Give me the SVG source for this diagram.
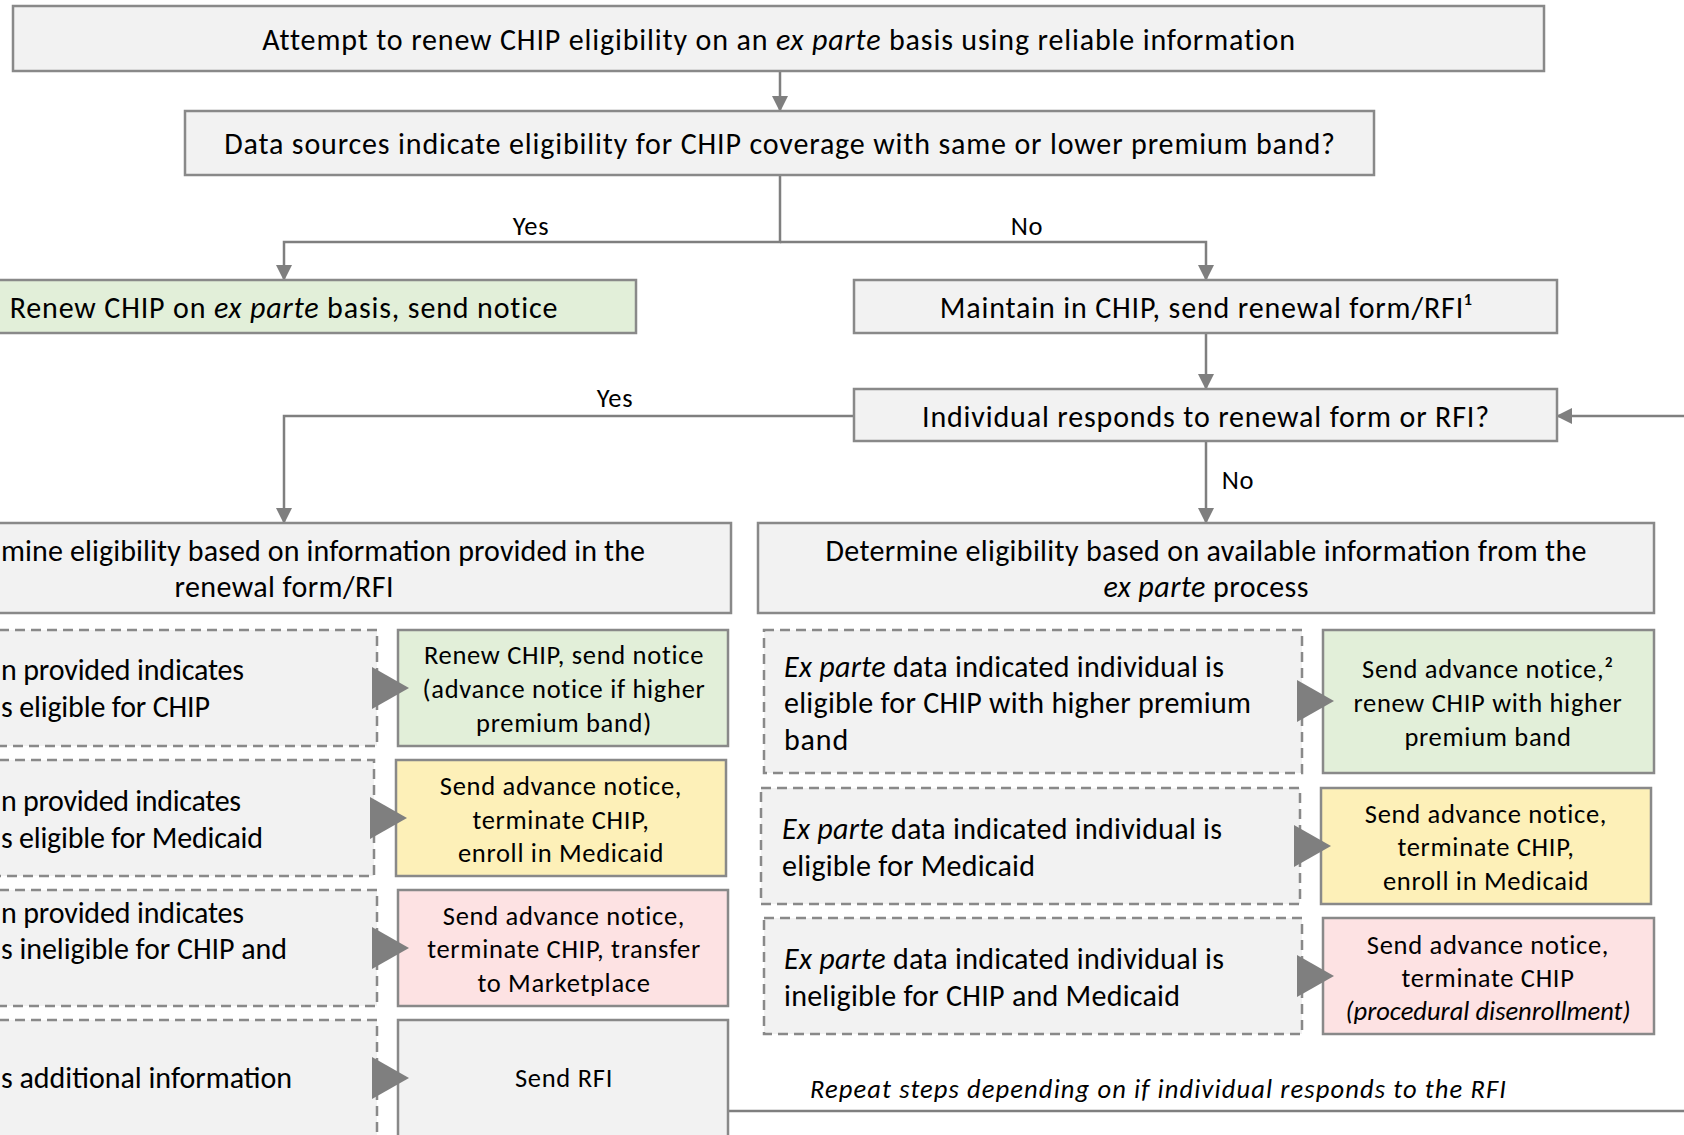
<svg xmlns="http://www.w3.org/2000/svg" width="1684" height="1135" viewBox="0 0 1684 1135">
<defs>
<marker id="ah" viewBox="0 0 16 16" refX="14" refY="8" markerWidth="16" markerHeight="16" markerUnits="userSpaceOnUse" orient="auto">
<path d="M0,0 L16,8 L0,16 Z" fill="#7f7f7f"/>
</marker>
<style>
text{font-family:Carlito,Lato,"Open Sans",sans-serif;fill:#000}
.l{font-size:30px;letter-spacing:0.85px}
.s{font-size:26.5px;letter-spacing:0.7px}
.f{letter-spacing:0}
.m{text-anchor:middle}
.i{font-style:italic}
.box{fill:#f2f2f2;stroke:#898989;stroke-width:2.5}
.dash{fill:#f2f2f2;stroke:#898989;stroke-width:2.5;stroke-dasharray:10 6}
.g{fill:#e2efd9;stroke:#898989;stroke-width:2.5}
.y{fill:#fdf0b8;stroke:#898989;stroke-width:2.5}
.p{fill:#fde2e3;stroke:#898989;stroke-width:2.5}
.c{fill:none;stroke:#7f7f7f;stroke-width:2.5;marker-end:url(#ah)}
.tri{fill:#7f7f7f}
</style>
</defs>
<rect width="1684" height="1135" fill="#fff"/>

<g id="connectors">
<path class="c" d="M780,71 V110"/>
<path class="c" d="M780,175 V242 H284 V279"/>
<path class="c" d="M780,242 H1206 V279"/>
<path class="c" d="M1206,333 V388"/>
<path class="c" d="M854,416 H284 V522"/>
<path class="c" d="M1206,441 V522"/>
<path class="c" d="M729,1111 H1720 V416 H1558"/>
<text class="s m" x="531" y="235">Yes</text>
<text class="s m" x="1027" y="235">No</text>
<text class="s m" x="615" y="407">Yes</text>
<text class="s m" x="1238" y="489">No</text>
<text class="s i f" x="810" y="1098" textLength="696" lengthAdjust="spacing">Repeat steps depending on if individual responds to the RFI</text>
</g>

<g id="n-attempt">
<rect class="box" x="13" y="6" width="1531" height="65"/>
<text class="l m" x="779" y="50">Attempt to renew CHIP eligibility on an <tspan class="i">ex parte</tspan> basis using reliable information</text>
</g>
<g id="n-datasources">
<rect class="box" x="185" y="111" width="1189" height="64"/>
<text class="l m" x="780" y="154">Data sources indicate eligibility for CHIP coverage with same or lower premium band?</text>
</g>
<g id="n-renew-exparte">
<rect class="g" x="-70" y="280" width="706" height="53"/>
<text class="l m" x="284" y="318">Renew CHIP on <tspan class="i">ex parte</tspan> basis, send notice</text>
</g>
<g id="n-maintain">
<rect class="box" x="854" y="280" width="703" height="53"/>
<text class="l m" x="1206" y="318">Maintain in CHIP, send renewal form/RFI¹</text>
</g>
<g id="n-responds">
<rect class="box" x="854" y="389" width="703" height="52"/>
<text class="l m" x="1206" y="427">Individual responds to renewal form or RFI?</text>
</g>
<g id="n-determine-left">
<rect class="box" x="-165" y="523" width="896" height="90"/>
<text class="l f" x="1" y="561" textLength="644" lengthAdjust="spacing">mine eligibility based on information provided in the</text>
<text class="l m f" x="284" y="597" textLength="219" lengthAdjust="spacing">renewal form/RFI</text>
</g>
<g id="n-determine-right">
<rect class="box" x="758" y="523" width="896" height="90"/>
<text class="l m f" x="1206" y="561" textLength="761" lengthAdjust="spacing">Determine eligibility based on available information from the</text>
<text class="l m f" x="1206" y="597" textLength="205" lengthAdjust="spacing"><tspan class="i">ex parte</tspan> process</text>
</g>

<g id="n-l1">
<rect class="dash" x="-161" y="630" width="538" height="116"/>
<text class="l f" x="1" y="680" textLength="243" lengthAdjust="spacing">n provided indicates</text>
<text class="l f" x="1" y="717" textLength="209" lengthAdjust="spacing">s eligible for CHIP</text>
</g>
<g id="n-l1r">
<rect class="g" x="398" y="630" width="330" height="116"/>
<text class="s m" x="564" y="664">Renew CHIP, send notice</text>
<text class="s m" x="564" y="698">(advance notice if higher</text>
<text class="s m" x="564" y="732">premium band)</text>
</g>
<polygon class="tri" points="372,667 409,688 372,709"/>

<g id="n-l2">
<rect class="dash" x="-161" y="760" width="535" height="116"/>
<text class="l f" x="1" y="811" textLength="240" lengthAdjust="spacing">n provided indicates</text>
<text class="l f" x="1" y="848" textLength="262" lengthAdjust="spacing">s eligible for Medicaid</text>
</g>
<g id="n-l2r">
<rect class="y" x="396" y="760" width="330" height="116"/>
<text class="s m" x="561" y="795">Send advance notice,</text>
<text class="s m" x="561" y="829">terminate CHIP,</text>
<text class="s m" x="561" y="862">enroll in Medicaid</text>
</g>
<polygon class="tri" points="370,797 407,818 370,839"/>

<g id="n-l3">
<rect class="dash" x="-161" y="890" width="538" height="116"/>
<text class="l f" x="1" y="923" textLength="243" lengthAdjust="spacing">n provided indicates</text>
<text class="l f" x="1" y="959" textLength="286" lengthAdjust="spacing">s ineligible for CHIP and</text>
</g>
<g id="n-l3r">
<rect class="p" x="398" y="890" width="330" height="116"/>
<text class="s m" x="564" y="925">Send advance notice,</text>
<text class="s m" x="564" y="958">terminate CHIP, transfer</text>
<text class="s m" x="564" y="992">to Marketplace</text>
</g>
<polygon class="tri" points="372,927 409,948 372,969"/>

<g id="n-l4">
<rect class="dash" x="-161" y="1020" width="538" height="140"/>
<text class="l f" x="1" y="1088" textLength="291" lengthAdjust="spacing">s additional information</text>
</g>
<g id="n-l4r">
<rect class="box" x="398" y="1020" width="330" height="140"/>
<text class="s m" x="564" y="1087">Send RFI</text>
</g>
<polygon class="tri" points="372,1057 409,1078 372,1099"/>

<g id="n-r1">
<rect class="dash" x="764" y="630" width="538" height="143"/>
<text class="l f" x="784" y="677" textLength="440" lengthAdjust="spacing"><tspan class="i">Ex parte</tspan> data indicated individual is</text>
<text class="l f" x="784" y="713" textLength="467" lengthAdjust="spacing">eligible for CHIP with higher premium</text>
<text class="l" x="784" y="750">band</text>
</g>
<g id="n-r1r">
<rect class="g" x="1323" y="630" width="331" height="143"/>
<text class="s m" x="1488" y="678">Send advance notice,²</text>
<text class="s m" x="1488" y="712">renew CHIP with higher</text>
<text class="s m" x="1488" y="746">premium band</text>
</g>
<polygon class="tri" points="1297,680 1334,701 1297,722"/>

<g id="n-r2">
<rect class="dash" x="761" y="788" width="539" height="116"/>
<text class="l f" x="782" y="839" textLength="440" lengthAdjust="spacing"><tspan class="i">Ex parte</tspan> data indicated individual is</text>
<text class="l f" x="782" y="876" textLength="253" lengthAdjust="spacing">eligible for Medicaid</text>
</g>
<g id="n-r2r">
<rect class="y" x="1321" y="788" width="330" height="116"/>
<text class="s m" x="1486" y="823">Send advance notice,</text>
<text class="s m" x="1486" y="856">terminate CHIP,</text>
<text class="s m" x="1486" y="890">enroll in Medicaid</text>
</g>
<polygon class="tri" points="1294,825 1331,846 1294,867"/>

<g id="n-r3">
<rect class="dash" x="764" y="918" width="538" height="116"/>
<text class="l f" x="784" y="969" textLength="440" lengthAdjust="spacing"><tspan class="i">Ex parte</tspan> data indicated individual is</text>
<text class="l f" x="784" y="1006" textLength="396" lengthAdjust="spacing">ineligible for CHIP and Medicaid</text>
</g>
<g id="n-r3r">
<rect class="p" x="1323" y="918" width="331" height="116"/>
<text class="s m" x="1488" y="954">Send advance notice,</text>
<text class="s m" x="1488" y="987">terminate CHIP</text>
<text class="s m i f" x="1488" y="1020" textLength="285" lengthAdjust="spacing">(procedural disenrollment)</text>
</g>
<polygon class="tri" points="1297,955 1334,976 1297,997"/>
</svg>
